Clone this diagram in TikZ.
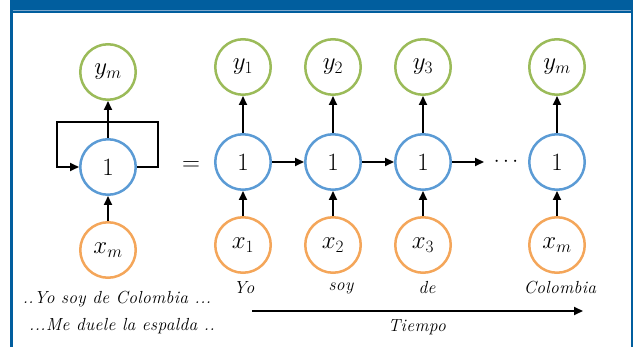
\documentclass[tikz,border=0pt]{standalone}
\usepackage{fontspec}
\newfontfamily\wordfont{Latin Modern Roman}[LetterSpace=2]
\usetikzlibrary{arrows.meta}
\definecolor{barblue}{HTML}{015E9E}
\definecolor{barline}{HTML}{7FA8CC}
\definecolor{cblue}{HTML}{5B9BD5}
\definecolor{cgreen}{HTML}{9BBB59}
\definecolor{corange}{HTML}{F4A65A}
\begin{document}
\begin{tikzpicture}[x=1pt,y=-1pt,
  ring/.style={circle,line width=2.5pt,minimum size=55.5pt,inner sep=0pt,font=\fontsize{26}{30}\selectfont},
  hid/.style={ring,draw=cblue},
  outn/.style={ring,draw=cgreen},
  inn/.style={ring,draw=corange},
  arr/.style={-{Triangle[length=9pt,width=8pt]},line width=1.8pt},
  word/.style={font=\wordfont\itshape\fontsize{17.5}{20}\selectfont}]
\useasboundingbox (0,0) rectangle (636,347);
% frame
\fill[barblue] (10,0) rectangle (633,12.7);
\draw[barline,line width=0.8pt] (12.7,10.6) -- (630.7,10.6);
\fill[barblue] (10,12.7) rectangle (12.7,347);
\fill[barblue] (630.7,0) rectangle (633,347);
% left folded network
\node[outn] (ym) at (108,72) {$y_m$};
\node[hid] (h0) at (108,167) {$1$};
\node[inn] (xm) at (108,250) {$x_m$};
\draw[arr] (xm) -- (h0);
\draw[arr] (h0) -- (ym);
\draw[arr] (h0.east) -- ++(21,0) -- ++(0,-45) -- ++(-101,0) -- ++(0,45) -- (h0.west);
\node[font=\fontsize{24}{28}\selectfont] (eq) at (191,166) {$=$};
% unrolled network
\node[outn] (y1) at (243,67) {$y_1$};
\node[outn] (y2) at (333,67) {$y_2$};
\node[outn] (y3) at (423,67) {$y_3$};
\node[outn] (y4) at (557,67) {$y_m$};
\node[hid] (h1) at (243,162) {$1$};
\node[hid] (h2) at (333,162) {$1$};
\node[hid] (h3) at (423,162) {$1$};
\node[hid] (h4) at (557,162) {$1$};
\node[inn] (x1) at (243,245) {$x_1$};
\node[inn] (x2) at (333,245) {$x_2$};
\node[inn] (x3) at (423,245) {$x_3$};
\node[inn] (x4) at (557,245) {$x_m$};
\foreach \i in {1,2,3,4}{
  \draw[arr] (x\i) -- (h\i);
  \draw[arr] (h\i) -- (y\i);
}
\draw[arr] (h1) -- (h2);
\draw[arr] (h2) -- (h3);
\coordinate (hend) at (484,162);
\draw[arr] (h3) -- (hend);
\node[font=\fontsize{20}{24}\selectfont] (dots) at (506,162) {$\cdots$};
% words
\node[word] (w1) at (244,288) {Yo};
\node[word] (w2) at (341,288) {soy};
\node[word] (w3) at (427,288) {de};
\node[word] (w4) at (560,288) {Colombia};
\coordinate (ts) at (252,311);
\coordinate (te) at (583,311);
\draw[arr] (ts) -- (te);
\node[word] (tiempo) at (417,327) {Tiempo};
\node[word] (s1) at (117,299) {..Yo soy de Colombia ...};
\node[word] (s2) at (122,326) {...Me duele la espalda ..};
\end{tikzpicture}
\end{document}
